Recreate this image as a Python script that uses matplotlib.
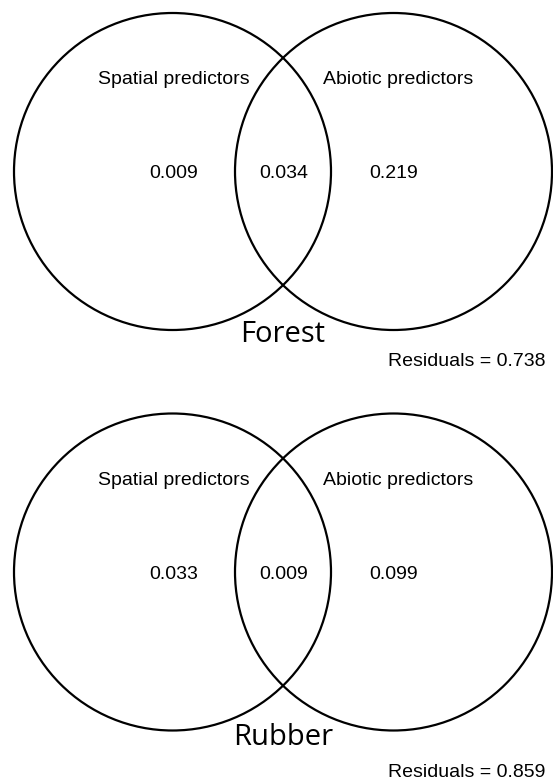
import matplotlib
matplotlib.use("Agg")
import matplotlib.pyplot as plt
from matplotlib.patches import Circle

# ---- data ----
panels = ["Forest", "Rubber"]
set_labels = ["Spatial predictors", "Abiotic predictors"]
spatial_only = [0.009, 0.033]
shared = [0.034, 0.009]
abiotic_only = [0.219, 0.099]
residuals = [0.738, 0.859]

# ---- layout (pixel coordinates, y downward) ----
W, H = 553, 781
panel_cy = [171.5, 572.0]
left_cx, right_cx = 172.5, 393.5
radius = 158.5
label_dy = 13.0 - 94.0 + 0.0
title_base = [341.7, 745.0]
resid_base = [365.7, 777.0]

fig = plt.figure(figsize=(W / 100, H / 100), dpi=100)
ax = fig.add_axes([0, 0, 1, 1])
ax.set_xlim(0, W)
ax.set_ylim(H, 0)
ax.set_aspect("equal")
ax.axis("off")

lab_font = dict(family=["Liberation Sans", "DejaVu Sans"], fontsize=14, color="black")
title_font = dict(family=["Open Sans", "DejaVu Sans"], fontsize=21, color="black")

for i, name in enumerate(panels):
    cy = panel_cy[i]
    for cx in (left_cx, right_cx):
        ax.add_patch(Circle((cx, cy), radius, fill=False, lw=1.6, ec="black"))
    ax.text(174, cy - 87, set_labels[0], ha="center", va="baseline", **lab_font)
    ax.text(398.5, cy - 87, set_labels[1], ha="center", va="baseline", **lab_font)
    ax.text(174, cy + 7, f"{spatial_only[i]:.3f}", ha="center", va="baseline", **lab_font)
    ax.text(284, cy + 7, f"{shared[i]:.3f}", ha="center", va="baseline", **lab_font)
    ax.text(394, cy + 7, f"{abiotic_only[i]:.3f}", ha="center", va="baseline", **lab_font)
    ax.text(283, title_base[i], name, ha="center", va="baseline", **title_font)
    ax.text(545, resid_base[i], f"Residuals = {residuals[i]:.3f}", ha="right", va="baseline", **lab_font)

fig.savefig("out.png", dpi=100)
